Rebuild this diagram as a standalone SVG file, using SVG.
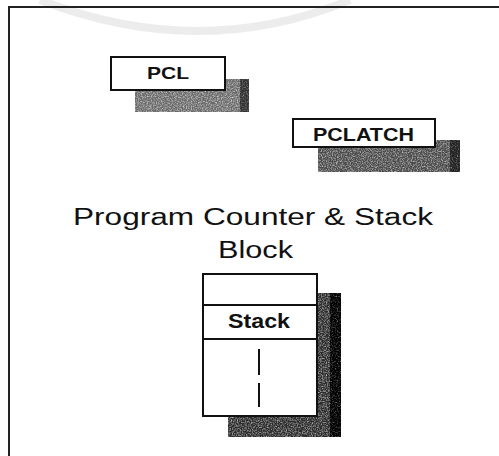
<svg xmlns="http://www.w3.org/2000/svg" width="499" height="456" viewBox="0 0 499 456">
<style>
.box{fill:#fff;stroke:#111;stroke-width:2}
.lbl{font-family:"Liberation Sans",Arial,sans-serif;font-weight:bold;fill:#111;text-anchor:start}
.title{font-family:"Liberation Sans",Arial,sans-serif;fill:#111}
.frame{stroke:#222;stroke-width:2;fill:none}
</style>
<defs>
<filter id="speck" x="0" y="0" width="100%" height="100%">
<feTurbulence type="fractalNoise" baseFrequency="0.8" numOctaves="2" seed="3" result="n"/>
<feColorMatrix in="n" type="matrix" values="0 0 0 0 0  0 0 0 0 0  0 0 0 0 0  0 0 0 -1.4 1.55" result="a"/>
<feComposite in="SourceGraphic" in2="a" operator="in"/>
</filter>
</defs>
<rect width="499" height="456" fill="#fff"/>
<path d="M40,0 Q200,62 350,0" fill="none" stroke="#ececec" stroke-width="8"/>
<path class="frame" d="M9,456 V7 H499"/>
<g id="pcl">
<rect x="135" y="79" width="114" height="33" fill="#6a6a6a" filter="url(#speck)"/>
<rect x="240" y="79" width="9" height="33" fill="#333" filter="url(#speck)"/>
<rect class="box" x="111" y="57" width="114" height="33"/>
<text class="lbl" x="147" y="79" font-size="17" textLength="42" lengthAdjust="spacingAndGlyphs">PCL</text>
</g>
<g id="pclatch">
<rect x="318" y="140" width="142" height="32" fill="#4a4a4a" filter="url(#speck)"/>
<rect x="450" y="140" width="10" height="32" fill="#222" filter="url(#speck)"/>
<rect class="box" x="293" y="119" width="142" height="28"/>
<text class="lbl" x="313" y="141" font-size="19" textLength="101" lengthAdjust="spacingAndGlyphs">PCLATCH</text>
</g>
<g id="title">
<text class="title" x="73" y="225" font-size="23" textLength="360" lengthAdjust="spacingAndGlyphs">Program Counter &amp; Stack</text>
<text class="title" x="218" y="258" font-size="23" textLength="75" lengthAdjust="spacingAndGlyphs">Block</text>
</g>
<g id="stack">
<rect x="228" y="293" width="113" height="144" fill="#2a2a2a" filter="url(#speck)"/>
<rect x="330" y="293" width="11" height="144" fill="#000" filter="url(#speck)"/>
<rect class="box" x="203" y="274" width="114" height="142"/>
<line x1="203" y1="305" x2="317" y2="305" stroke="#111" stroke-width="2"/>
<line x1="203" y1="339" x2="317" y2="339" stroke="#111" stroke-width="2"/>
<text class="lbl" x="228" y="328" font-size="20" textLength="62" lengthAdjust="spacingAndGlyphs">Stack</text>
<line x1="259" y1="349" x2="259" y2="375" stroke="#111" stroke-width="2"/>
<line x1="259" y1="383" x2="259" y2="407" stroke="#111" stroke-width="2"/>
</g>
</svg>
